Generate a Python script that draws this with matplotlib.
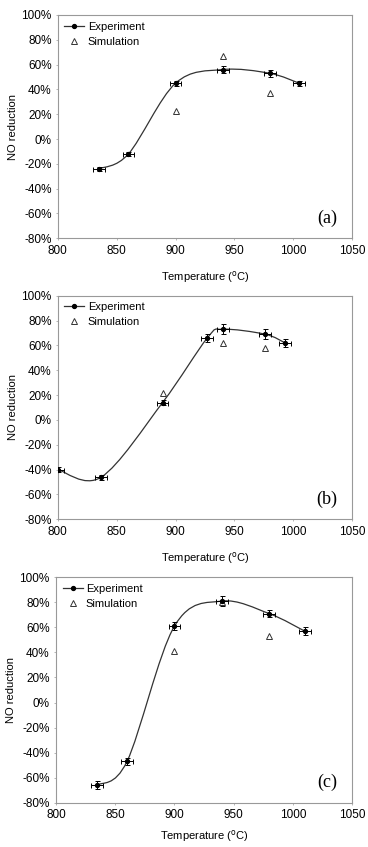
import matplotlib
matplotlib.use("Agg")
import matplotlib.pyplot as plt
import numpy as np
from matplotlib.path import Path
from matplotlib.patches import PathPatch
from matplotlib.lines import Line2D
from matplotlib.ticker import FuncFormatter

plt.rcParams['font.family'] = ['Liberation Sans', 'DejaVu Sans']

# Panel (a)
a_exp_x = [835, 860, 900, 940, 980, 1005]
a_exp_y = [-24, -12, 45, 56, 53, 45]
a_exp_yerr = [1.5, 1.5, 2, 3, 3, 2]
a_sim_x = [900, 940, 980]
a_sim_y = [23, 67, 37]

# Panel (b)
b_exp_x = [800, 837, 889, 927, 940, 976, 993]
b_exp_y = [-40, -46, 14, 66, 73, 69, 62]
b_exp_yerr = [2, 2, 2, 3, 4, 4, 3]
b_sim_x = [889, 940, 976]
b_sim_y = [22, 62, 58]

# Panel (c)
c_exp_x = [835, 860, 900, 940, 980, 1010]
c_exp_y = [-66, -47, 61, 81, 71, 57]
c_exp_yerr = [3, 3, 3, 4, 3, 3]
c_sim_x = [900, 940, 980]
c_sim_y = [41, 80, 53]

xerr_val = 5
x_ticks = [800, 850, 900, 950, 1000, 1050]
y_ticks = [-80, -60, -40, -20, 0, 20, 40, 60, 80, 100]
labels = ['(a)', '(b)', '(c)']


def excel_smooth_path(x, y):
    pts = np.column_stack([x, y]).astype(float)
    n = len(pts)
    verts = [pts[0]]
    codes = [Path.MOVETO]
    for i in range(n - 1):
        p0 = pts[i - 1] if i > 0 else pts[i]
        p1 = pts[i]
        p2 = pts[i + 1]
        p3 = pts[i + 2] if i + 2 < n else pts[i + 1]
        c1 = p1 + (p2 - p0) / 6.0
        c2 = p2 - (p3 - p1) / 6.0
        verts += [c1, c2, p2]
        codes += [Path.CURVE4] * 3
    return Path(verts, codes)


fig = plt.figure(figsize=(3.68, 8.47), dpi=100)
rects = [
    [0.157, 0.7187, 0.800, 0.2636],
    [0.157, 0.3869, 0.800, 0.2640],
    [0.152, 0.0523, 0.805, 0.2661],
]
xlabel_pads = [9, 9, 5]
data = [
    (a_exp_x, a_exp_y, a_exp_yerr, a_sim_x, a_sim_y),
    (b_exp_x, b_exp_y, b_exp_yerr, b_sim_x, b_sim_y),
    (c_exp_x, c_exp_y, c_exp_yerr, c_sim_x, c_sim_y),
]

for rect, (ex, ey, eyerr, sx, sy), lab, xpad in zip(rects, data, labels, xlabel_pads):
    ax = fig.add_axes(rect)
    patch = PathPatch(excel_smooth_path(ex, ey), facecolor='none',
                      edgecolor='#333333', lw=0.9, zorder=2)
    ax.add_patch(patch)
    ax.errorbar(ex, ey, xerr=xerr_val, yerr=eyerr, fmt='o', color='black',
                ms=2.8, elinewidth=0.7, capsize=1.8, capthick=0.7, zorder=3)
    ax.plot(sx, sy, linestyle='none', marker='^', mfc='white', mec='#333333',
            ms=5, mew=0.7, zorder=3)
    ax.set_xlim(800, 1050)
    ax.set_ylim(-80, 100)
    ax.set_xticks(x_ticks)
    ax.set_yticks(y_ticks)
    ax.yaxis.set_major_formatter(FuncFormatter(lambda v, p: f"{int(round(v))}%"))
    ax.tick_params(labelsize=8.5, length=1.5, width=0.6, color='#aaaaaa',
                   direction='out', pad=3)
    for s in ax.spines.values():
        s.set_color('#999999')
        s.set_linewidth(0.8)
    ax.set_xlabel(r'Temperature ($^{\mathrm{o}}$C)', fontsize=8, labelpad=xpad)
    ax.set_ylabel('NO reduction', fontsize=8, labelpad=2.5)
    ax.text(0.915, 0.09, lab, transform=ax.transAxes, family='Liberation Serif',
            fontsize=13, ha='center', va='center')
    handles = [
        Line2D([], [], color='#333333', lw=0.9, marker='o', ms=2.8,
               mfc='black', mec='black'),
        Line2D([], [], linestyle='none', marker='^', mfc='white',
               mec='#333333', ms=4.5, mew=0.7),
    ]
    ax.legend(handles, ['Experiment', 'Simulation'], loc='upper left',
              frameon=False, fontsize=8, handlelength=1.8,
              handletextpad=0.3, borderaxespad=0.2, labelspacing=0.45)

fig.savefig('out.png', dpi=100)
